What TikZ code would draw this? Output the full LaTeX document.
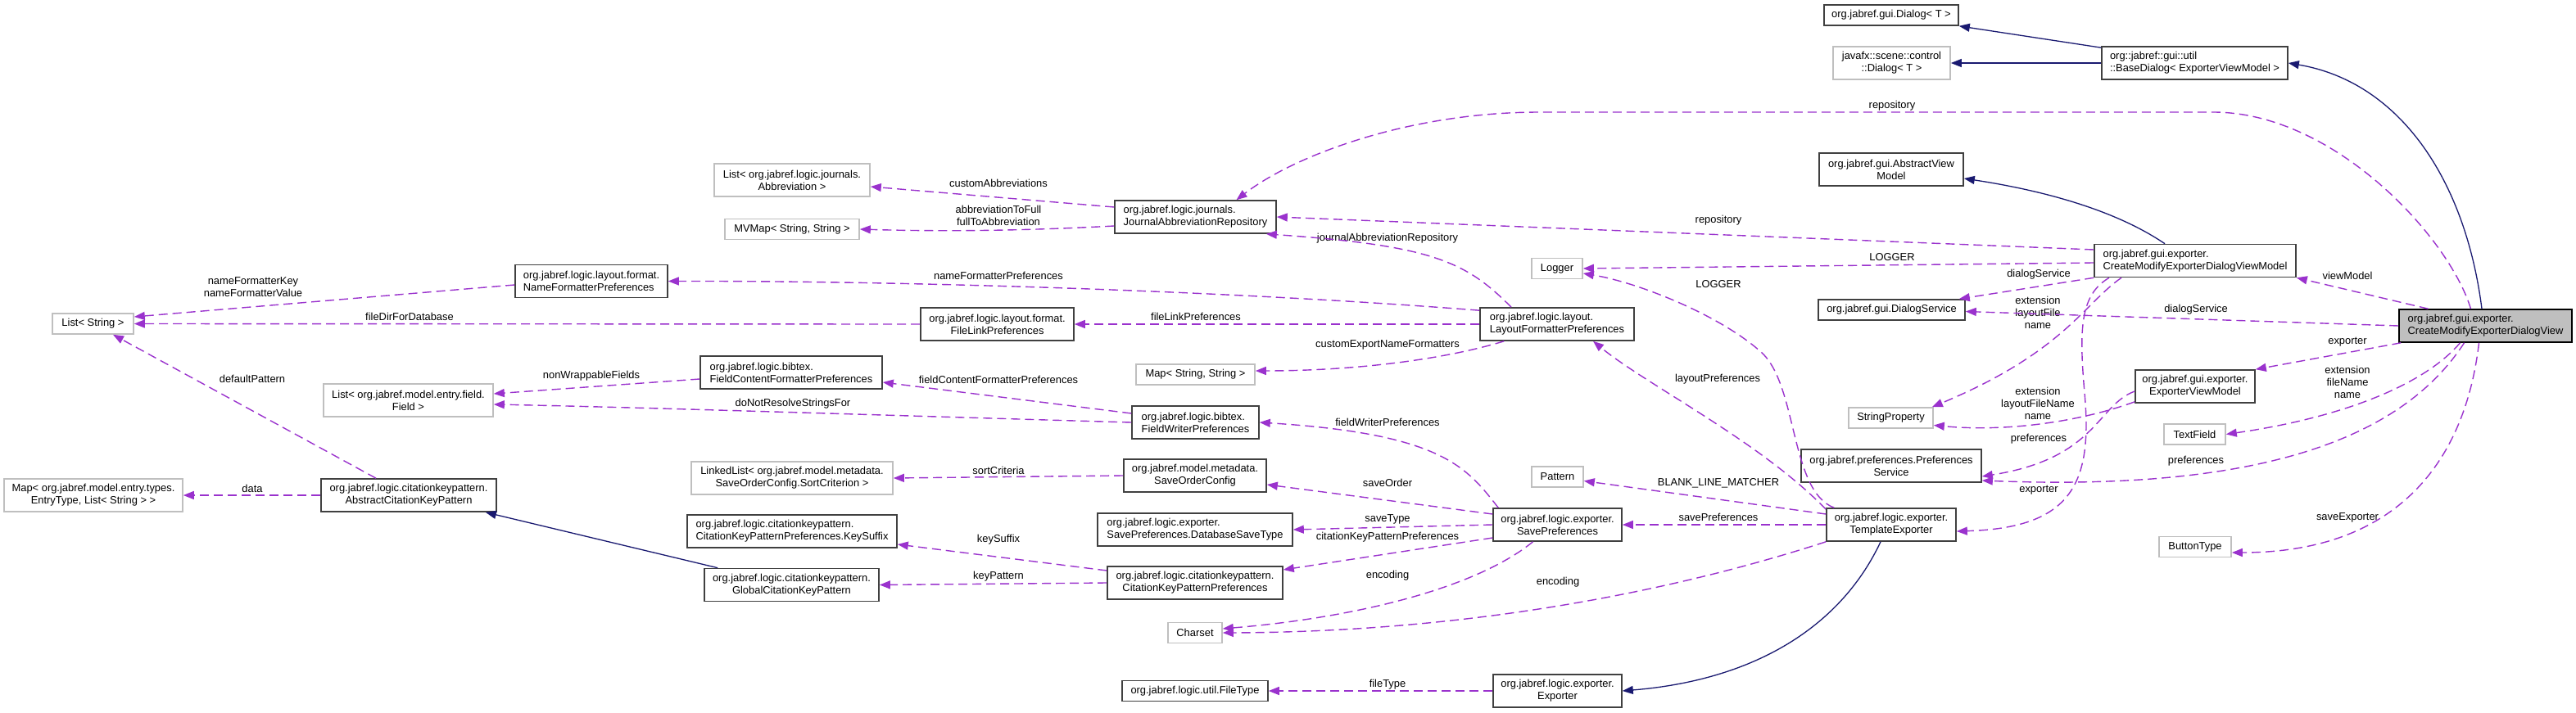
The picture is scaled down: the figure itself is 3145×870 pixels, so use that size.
\documentclass[tikz,border=0pt]{standalone}
\usepackage{fontspec}
\setmainfont{Liberation Sans}
\usepackage{tikz}
\usetikzlibrary{arrows.meta,calc}
\definecolor{deppurple}{HTML}{9A32CD}
\definecolor{inhnavy}{HTML}{191970}
\definecolor{docgray}{HTML}{404040}
\definecolor{extgray}{HTML}{BFBFBF}

\begin{document}
\begin{tikzpicture}[x=1pt, y=-1pt,
  every node/.style={font=\fontsize{12.9}{15}\selectfont, align=center, inner sep=0pt},
  cls/.style={draw=docgray, line width=1.6pt, fill=white, minimum height=40pt},
  ext/.style={draw=extgray, line width=1.6pt, fill=white, minimum height=40pt},
  cur/.style={draw=black, line width=1.6pt, fill=extgray, minimum height=40pt},
  one/.style={minimum height=25pt},
  lft/.style={align=left},
  dep/.style={draw=deppurple, line width=1.4pt, dash pattern=on 11pt off 6pt, -{Triangle[length=13pt,width=10pt]}},
  inh/.style={draw=inhnavy, line width=1.3pt, -{Triangle[length=13pt,width=10pt]}}]
  \useasboundingbox (0,0) rectangle (3145,870);

  \node[cls, one, minimum width=164pt] (dialog) at (2309,18.5) {org.jabref.gui.Dialog< T >};
  \node[ext, minimum width=143pt] (fxdialog) at (2309.5,77) {javafx::scene::control\\::Dialog< T >};
  \node[cls, lft, minimum width=227pt] (basedialog) at (2679.5,77) {org::jabref::gui::util\\::BaseDialog< ExporterViewModel >};
  \node[cls, minimum width=176pt] (abstractvm) at (2309,207) {org.jabref.gui.AbstractView\\Model};
  \node[cls, lft, minimum width=246pt] (cmedvm) at (2680,318.5) {org.jabref.gui.exporter.\\CreateModifyExporterDialogViewModel};
  \node[cur, lft, minimum width=211pt] (main) at (3034.5,398) {org.jabref.gui.exporter.\\CreateModifyExporterDialogView};
  \node[cls, one, minimum width=179pt] (dialogservice) at (2309.5,378.5) {org.jabref.gui.DialogService};
  \node[ext, one, minimum width=103pt] (stringprop) at (2308.5,510.5) {StringProperty};
  \node[cls, minimum width=220pt] (prefservice) at (2309,569) {org.jabref.preferences.Preferences\\Service};
  \node[cls, minimum width=158pt] (template) at (2309,641) {org.jabref.logic.exporter.\\TemplateExporter};
  \node[cls, minimum width=146pt] (exportervm) at (2680,472) {org.jabref.gui.exporter.\\ExporterViewModel};
  \node[ext, one, minimum width=75pt] (textfield) at (2679.5,530.5) {TextField};
  \node[ext, one, minimum width=88pt] (buttontype) at (2680,668) {ButtonType};
  \node[ext, one, minimum width=62pt] (logger) at (1901,328) {Logger};
  \node[cls, lft, minimum width=188pt] (lfp) at (1901,396) {org.jabref.logic.layout.\\LayoutFormatterPreferences};
  \node[ext, one, minimum width=63pt] (pattern) at (1901.5,582.5) {Pattern};
  \node[cls, minimum width=157pt] (saveprefs) at (1901.5,641) {org.jabref.logic.exporter.\\SavePreferences};
  \node[cls, minimum width=157pt] (exporter) at (1901.5,844) {org.jabref.logic.exporter.\\Exporter};
  \node[cls, lft, minimum width=197pt] (jar) at (1459.5,265) {org.jabref.logic.journals.\\JournalAbbreviationRepository};
  \node[ext, one, minimum width=145pt] (mapstrstr) at (1459.5,457.5) {Map< String, String >};
  \node[cls, lft, minimum width=155pt] (fwp) at (1459.5,516) {org.jabref.logic.bibtex.\\FieldWriterPreferences};
  \node[cls, minimum width=174pt] (saveorder) at (1459,581) {org.jabref.model.metadata.\\SaveOrderConfig};
  \node[cls, lft, minimum width=238pt] (dbsavetype) at (1459,647) {org.jabref.logic.exporter.\\SavePreferences.DatabaseSaveType};
  \node[cls, minimum width=214pt] (ckpprefs) at (1459,712) {org.jabref.logic.citationkeypattern.\\CitationKeyPatternPreferences};
  \node[ext, one, minimum width=66pt] (charset) at (1459,773) {Charset};
  \node[cls, one, minimum width=178pt] (filetype) at (1459,844) {org.jabref.logic.util.FileType};
  \node[cls, minimum width=187pt] (filelink) at (1217.5,396) {org.jabref.logic.layout.format.\\FileLinkPreferences};
  \node[ext, minimum width=190pt] (abbrevlist) at (967,220) {List< org.jabref.logic.journals.\\Abbreviation >};
  \node[ext, one, minimum width=164pt] (mvmap) at (967,280) {MVMap< String, String >};
  \node[cls, lft, minimum width=222pt] (fcfp) at (966,455) {org.jabref.logic.bibtex.\\FieldContentFormatterPreferences};
  \node[ext, minimum width=246pt] (linkedlist) at (967,584) {LinkedList< org.jabref.model.metadata.\\SaveOrderConfig.SortCriterion >};
  \node[cls, lft, minimum width=256pt] (keysuffix) at (967,649) {org.jabref.logic.citationkeypattern.\\CitationKeyPatternPreferences.KeySuffix};
  \node[cls, minimum width=213pt] (globalckp) at (966.5,714.5) {org.jabref.logic.citationkeypattern.\\GlobalCitationKeyPattern};
  \node[cls, lft, minimum width=186pt] (namefmt) at (722,343.5) {org.jabref.logic.layout.format.\\NameFormatterPreferences};
  \node[ext, minimum width=207pt] (fieldlist) at (498.5,489) {List< org.jabref.model.entry.field.\\Field >};
  \node[cls, minimum width=214pt] (abstractckp) at (499,605) {org.jabref.logic.citationkeypattern.\\AbstractCitationKeyPattern};
  \node[ext, one, minimum width=99pt] (liststr) at (113.5,395.5) {List< String >};
  \node[ext, minimum width=218pt] (mapentry) at (114,605) {Map< org.jabref.model.entry.types.\\EntryType, List< String > >};

  \node (lrepotop) at (2310,129) {repository};
  \node (lrepo) at (2098,269) {repository};
  \node (lloggervm) at (2310,314) {LOGGER};
  \node (lloggertpl) at (2098,347) {LOGGER};
  \node (ljar) at (1694,291) {journalAbbreviationRepository};
  \node (lcustomfmt) at (1694,421) {customExportNameFormatters};
  \node (llayout) at (2097,463) {layoutPreferences};
  \node (lfieldwriter) at (1694,516) {fieldWriterPreferences};
  \node (lblank) at (2098,590) {BLANK\_LINE\_MATCHER};
  \node (lsaveorder) at (1694,590) {saveOrder};
  \node (lsaveprefs) at (2098,632) {savePreferences};
  \node (lsavetype) at (1694,634) {saveType};
  \node (lckpprefs) at (1694,656) {citationKeyPatternPreferences};
  \node (lencsave) at (1694,703) {encoding};
  \node (lenctpl) at (1902,711) {encoding};
  \node (lfiletype) at (1694,836) {fileType};
  \node (lviewmodel) at (2866,337) {viewModel};
  \node (ldialogmain) at (2681,378) {dialogService};
  \node (ldialogvm) at (2489,335) {dialogService};
  \node (lstrvm) at (2488,382) {extension\\layoutFile\\name};
  \node (lexpmain) at (2866,418) {exporter};
  \node (ltextfield) at (2866,467) {extension\\fileName\\name};
  \node (lstrexp) at (2488,493) {extension\\layoutFileName\\name};
  \node (lprefexp) at (2489,536) {preferences};
  \node (lprefmain) at (2681,563) {preferences};
  \node (lexpvm) at (2489,599) {exporter};
  \node (lsaveexp) at (2866,632) {saveExporter};
  \node (labbrev) at (1219,224) {customAbbreviations};
  \node (lmvmap) at (1219,263) {abbreviationToFull\\fullToAbbreviation};
  \node (lnamefmt) at (1219,337) {nameFormatterPreferences};
  \node (lfilelink) at (1460,387) {fileLinkPreferences};
  \node (lfiledir) at (500,387) {fileDirForDatabase};
  \node (lnamekey) at (309,351) {nameFormatterKey\\nameFormatterValue};
  \node (ldefault) at (308,463) {defaultPattern};
  \node (ldata) at (308,597) {data};
  \node (lnonwrap) at (722,459) {nonWrappableFields};
  \node (lfcfp) at (1219,464) {fieldContentFormatterPreferences};
  \node (lnoresolve) at (968,493) {doNotResolveStringsFor};
  \node (lsort) at (1219,575) {sortCriteria};
  \node (lkeysuffix) at (1219,659) {keySuffix};
  \node (lkeypattern) at (1219,704) {keyPattern};

  \draw[inh] ([yshift=-2pt]basedialog.north west) -- (dialog.south east);
  \draw[inh] (basedialog.west) -- (fxdialog.east);
  \draw[inh] ([xshift=-4.5pt]main.north) .. controls (3010,220) and (2930,100) .. (basedialog.east);
  \draw[inh] ([xshift=-37pt]cmedvm.north) .. controls (2580,255) and (2490,232) .. ([yshift=-11pt]abstractvm.east);
  \draw[inh] ([xshift=17pt]globalckp.north west) -- ([xshift=-14pt]abstractckp.south east);
  \draw[inh] ([xshift=-13pt]template.south) .. controls (2250,760) and (2150,830) .. (exporter.east);

  \draw[dep] ([xshift=-18pt]main.north) .. controls (2990,290) and (2850,137) .. (2702,137) -- (1880,137) .. controls (1720,137) and (1580,190) .. ([xshift=50pt]jar.north);
  \draw[dep] ([xshift=-70pt]main.north) -- (cmedvm.south east);
  \draw[dep] (main.west) -- ([yshift=-2pt]dialogservice.east);
  \draw[dep] ([xshift=3pt]main.south west) -- (exportervm.north east);
  \draw[dep] ([xshift=-31pt]main.south) .. controls (2960,470) and (2860,510) .. (textfield.east);
  \draw[dep] ([xshift=-26pt]main.south) .. controls (2930,540) and (2750,600) .. ([yshift=-18pt]prefservice.east);
  \draw[dep] ([xshift=-8pt]main.south) .. controls (3010,560) and (2930,675) .. ([yshift=-7pt]buttontype.east);

  \draw[dep] ([yshift=13.5pt]cmedvm.west) -- (jar.east);
  \draw[dep] ([yshift=-2.5pt]cmedvm.west) -- (logger.east);
  \draw[dep] (cmedvm.south west) -- ([xshift=-8pt]dialogservice.north east);
  \draw[dep] ([xshift=-90pt]cmedvm.south) .. controls (2545,370) and (2520,430) .. ([xshift=-2pt]stringprop.north east);
  \draw[dep] ([xshift=-105pt]cmedvm.south) .. controls (2540,360) and (2538,400) .. (2545,480) .. controls (2555,590) and (2530,645) .. ([yshift=-8pt]template.east);

  \draw[dep] ([yshift=2pt]exportervm.south west) .. controls (2540,515) and (2450,528) .. ([yshift=-9pt]stringprop.east);
  \draw[dep] ([yshift=-6pt]exportervm.west) .. controls (2560,495) and (2560,560) .. ([yshift=-13pt]prefservice.east);

  \draw[dep] ([xshift=10pt]template.north west) .. controls (2185,600) and (2195,470) .. (2150,430) .. controls (2100,385) and (2000,345) .. ([yshift=-6pt]logger.east);
  \draw[dep] ([yshift=-2pt]template.north west) .. controls (2150,540) and (2010,470) .. ([xshift=44pt]lfp.south);
  \draw[dep] ([yshift=13pt]template.west) -- ([yshift=-5pt]pattern.east);
  \draw[dep] (template.west) -- (saveprefs.east);
  \draw[dep] (template.south west) .. controls (2050,720) and (1800,772) .. (charset.east);

  \draw[dep] ([xshift=-30pt]saveprefs.south) .. controls (1800,720) and (1650,755) .. ([yshift=5pt]charset.east);
  \draw[dep] ([yshift=13pt]saveprefs.west) -- ([yshift=-11pt]saveorder.east);
  \draw[dep] (saveprefs.west) -- (dbsavetype.east);
  \draw[dep] ([yshift=-16pt]saveprefs.west) -- ([yshift=16pt]ckpprefs.east);
  \draw[dep] ([xshift=7pt]saveprefs.north west) .. controls (1790,570) and (1760,530) .. (fwp.east);

  \draw[dep] ([xshift=-56pt]lfp.north) .. controls (1790,320) and (1750,300) .. ([xshift=-13pt]jar.south east);
  \draw[dep] ([yshift=-4pt]lfp.north west) .. controls (1500,355) and (1100,343) .. (namefmt.east);
  \draw[dep] (lfp.west) -- (filelink.east);
  \draw[dep] ([xshift=30pt]lfp.south west) .. controls (1760,440) and (1650,453) .. ([yshift=4.5pt]mapstrstr.east);
  \draw[dep] (exporter.west) -- (filetype.east);

  \draw[dep] ([yshift=12pt]jar.west) -- ([yshift=-8pt]abbrevlist.east);
  \draw[dep] ([yshift=-11pt]jar.west) .. controls (1250,282) and (1150,283) .. (mvmap.east);
  \draw[dep] ([yshift=11pt]fwp.west) -- ([yshift=-12pt]fcfp.east);
  \draw[dep] (fwp.west) .. controls (1100,508) and (800,498) .. ([yshift=-5pt]fieldlist.east);
  \draw[dep] (saveorder.west) -- (linkedlist.east);
  \draw[dep] ([yshift=15pt]ckpprefs.west) -- ([yshift=-16pt]keysuffix.east);
  \draw[dep] (ckpprefs.west) -- (globalckp.east);

  \draw[dep] ([yshift=-8pt]fcfp.west) -- ([yshift=8pt]fieldlist.east);
  \draw[dep] (filelink.west) -- (liststr.east);
  \draw[dep] ([yshift=-4.5pt]namefmt.west) -- ([yshift=8.5pt]liststr.east);
  \draw[dep] ([xshift=-40pt]abstractckp.north) -- ([xshift=24.5pt]liststr.south);
  \draw[dep] (abstractckp.west) -- (mapentry.east);
\end{tikzpicture}
\end{document}
